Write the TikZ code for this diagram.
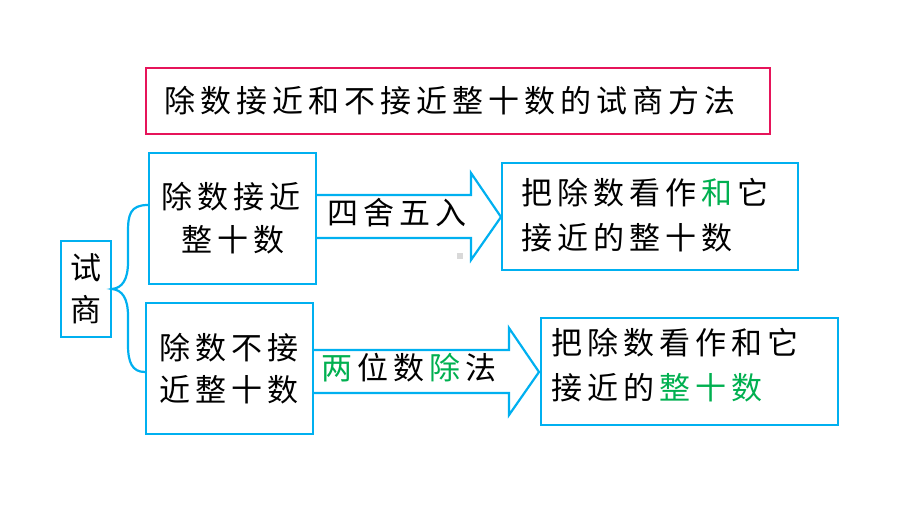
\documentclass[tikz,border=0pt]{standalone}
\usepackage{fontspec}
\newfontfamily\cjk{Noto Sans CJK SC}
\definecolor{bb}{RGB}{0,176,240}
\definecolor{pk}{RGB}{230,20,90}
\definecolor{gr}{RGB}{0,176,80}
\makeatletter
\newcommand\spaced[2][36pt]{\@tfor\@ch:=#2\do{\makebox[#1][c]{\@ch}}}
\makeatother
\begin{document}
\begin{tikzpicture}[x=1pt,y=-1pt,
  box/.style={draw=bb,line width=2.2pt,fill=white,inner sep=0},
  tbox/.style={draw=pk,line width=2.2pt,fill=white,inner sep=0},
  txt/.style={font=\cjk\fontsize{31}{31}\selectfont,anchor=west,inner sep=0},
  arr/.style={draw=bb,line width=2.2pt,fill=white,line join=miter}]
\useasboundingbox (0,0) rectangle (920,518);
% boxes
\node[tbox,minimum width=624pt,minimum height=66pt] (title) at (458,101) {};
\node[box,minimum width=50pt,minimum height=96pt] (ss) at (86,289) {};
\node[box,minimum width=167pt,minimum height=131pt] (b1) at (232.5,218.5) {};
\node[box,minimum width=167pt,minimum height=131pt] (b2) at (229.5,368.5) {};
\node[box,minimum width=296pt,minimum height=107pt] (r1) at (650,216.5) {};
\node[box,minimum width=297pt,minimum height=107pt] (r2) at (689.5,371.5) {};
% arrows
\draw[arr] (b1.east |- 0,195) -- (471,195) -- (471,173) -- (501,217) -- (471,260) -- (471,238) -- (b1.east |- 0,238);
\draw[arr] (b2.east |- 0,350) -- (509,350) -- (509,328) -- (539,372) -- (509,415) -- (509,393) -- (b2.east |- 0,393);
% brace
\coordinate (bt) at (b1.west |- 0,205);
\coordinate (bb2) at (b2.west |- 0,372);
\draw[draw=bb,line width=2.2pt] (bt) .. controls (130,205) and (128,215) .. (128,232) -- (128,262) .. controls (128,280) and (122,288) .. (ss.east)
  .. controls (122,290) and (128,298) .. (128,316) -- (128,345) .. controls (128,362) and (132,372) .. (bb2);
\fill[gray!30] (457,253) rectangle (463,259);
% texts
\node[txt] (t0) at (162,101) {\spaced{除数接近和不接近整十数的试商方法}};
\node[txt] (s1) at (68,268) {\spaced{试}};
\node[txt] (s2) at (68,310) {\spaced{商}};
\node[txt] (a1) at (159,197) {\spaced{除数接近}};
\node[txt] (a2) at (179,240) {\spaced{整十数}};
\node[txt] (c1) at (157,348) {\spaced{除数不接}};
\node[txt] (c2) at (157,390) {\spaced{近整十数}};
\node[txt] (l1) at (325,213) {\spaced{四舍五入}};
\node[txt] (l2) at (319,368) {\spaced{{\color{gr}两}位数{\color{gr}除}法}};
\node[txt] (d1) at (519,193) {\spaced{把除数看作{\color{gr}和}它}};
\node[txt] (d2) at (519,238) {\spaced{接近的整十数}};
\node[txt] (e1) at (549,343) {\spaced{把除数看作和它}};
\node[txt] (e2) at (549,388) {\spaced{接近的{\color{gr}整}{\color{gr}十}{\color{gr}数}}};
\end{tikzpicture}
\end{document}
